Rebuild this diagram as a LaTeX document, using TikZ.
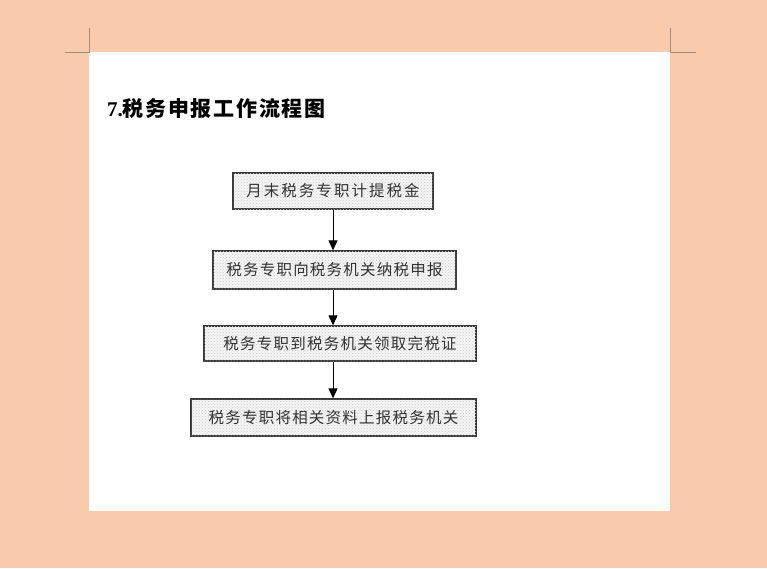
\documentclass[tikz,border=0pt]{standalone}
\usepackage{fontspec}
\setmainfont{Liberation Serif}
\newfontfamily\cjk{Noto Sans CJK SC}
\newfontfamily\cjktitle{Noto Sans CJK SC}[LetterSpace=8]
\newfontfamily\cjkbox{Noto Sans CJK SC}[LetterSpace=8]
\newfontfamily\cjkboxwide{Noto Sans CJK SC}[LetterSpace=13]
\usetikzlibrary{arrows.meta,patterns}
\definecolor{peach}{RGB}{247,203,172}
\definecolor{cropmark}{RGB}{168,140,122}

\begin{document}
\begin{tikzpicture}[
				x = 1pt, y = -1pt,
				stepbox/.style = {draw = black!78, line width = 1.3pt, fill = gray!8,
					postaction = {pattern = crosshatch dots, pattern color = gray!40},
					inner sep = 0pt, text = black!80,
					font = \cjkbox\fontsize{15.5pt}{15.5pt}\selectfont},
				arr/.style = {-{Triangle[width = 9pt, length = 10pt]}, line width = 1pt}
			]

			% page and background
			\fill[peach] (0,0) rectangle (767,568);
			\useasboundingbox (0,0) rectangle (767,568);
			\fill[white] (89,52) rectangle (670,511);

			% crop marks
			\draw[cropmark, line width = 1pt] (89,28) -- (89,52) -- (65,52);
			\draw[cropmark, line width = 1pt] (670,28) -- (670,52) -- (696,52);

			% title
			\node[anchor = west, inner sep = 0pt, font = \fontsize{21pt}{21pt}\selectfont\bfseries]
				(title) at (107,109) {7.{\cjktitle\bfseries 税务申报工作流程图}};

			% steps
			\node[stepbox, minimum width = 200pt, minimum height = 36pt,
				font = \cjkboxwide\fontsize{15.5pt}{15.5pt}\selectfont]
				(tiji) at (333,191) {月末税务专职计提税金};
			\node[stepbox, minimum width = 243pt, minimum height = 38pt]
				(shenbao) at (334.5,270) {税务专职向税务机关纳税申报};
			\node[stepbox, minimum width = 272pt, minimum height = 35pt]
				(wanshui) at (340,343.5) {税务专职到税务机关领取完税证};
			\node[stepbox, minimum width = 285pt, minimum height = 37pt]
				(shangbao) at (333.5,417.5) {税务专职将相关资料上报税务机关};

			% arrows
			\draw[arr] (tiji.south) -- (tiji.south |- shenbao.north);
			\draw[arr] (tiji.south |- shenbao.south) -- (tiji.south |- wanshui.north);
			\draw[arr] (tiji.south |- wanshui.south) -- (tiji.south |- shangbao.north);

			\end{tikzpicture}
\end{document}
